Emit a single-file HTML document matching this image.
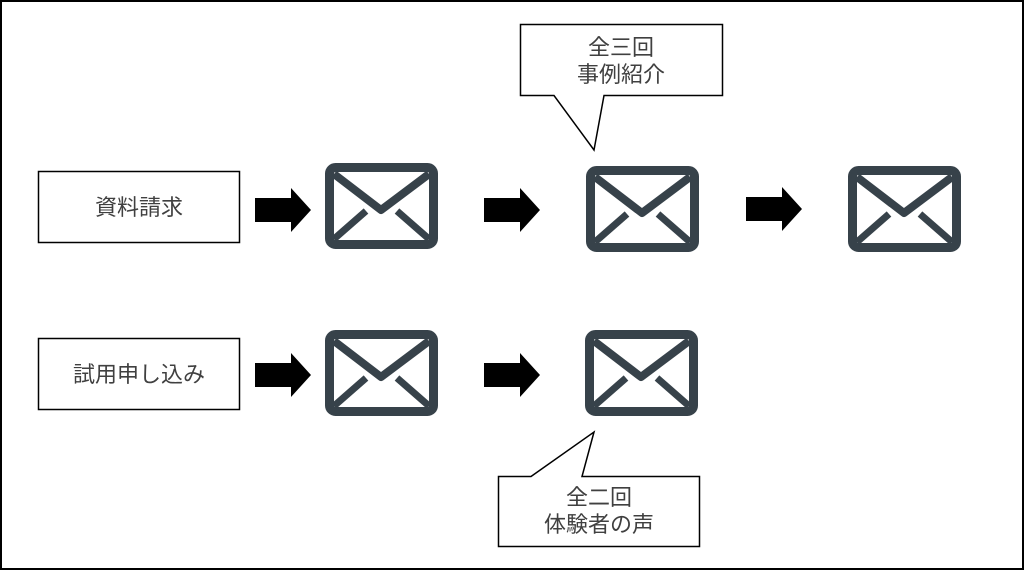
<!DOCTYPE html>
<html><head><meta charset="utf-8"><style>
html,body{margin:0;padding:0;background:#fff}
svg text{font-family:"Liberation Sans","Noto Sans CJK JP",sans-serif;font-size:22px;fill:#404040}
</style></head><body>
<svg width="1024" height="570" viewBox="0 0 1024 570" xmlns="http://www.w3.org/2000/svg">
<defs>
<g id="env">
<rect x="4.5" y="4.5" width="104" height="77" rx="6" fill="#fff" stroke="#37424a" stroke-width="9"/>
<polyline points="9,11 56,47 104,11" fill="none" stroke="#37424a" stroke-width="8" stroke-linejoin="round"/>
<line x1="9" y1="76" x2="41" y2="48" stroke="#37424a" stroke-width="7"/>
<line x1="104" y1="76" x2="72" y2="48" stroke="#37424a" stroke-width="7"/>
</g>
<polygon id="arr" points="0,-12 36,-12 36,-22 56,0 36,22 36,12 0,12" fill="#000"/>
</defs>
<rect x="1" y="1" width="1022" height="568" fill="#fff" stroke="#000" stroke-width="2"/>
<rect x="38.5" y="171.5" width="201" height="71" fill="#fff" stroke="#000" stroke-width="1.5"/>
<text x="139" y="215" text-anchor="middle">資料請求</text>
<rect x="38.5" y="338.5" width="201" height="71" fill="#fff" stroke="#000" stroke-width="1.5"/>
<text x="139" y="382" text-anchor="middle">試用申し込み</text>
<use href="#arr" x="255" y="210"/>
<use href="#arr" x="484" y="210"/>
<use href="#arr" x="746" y="209"/>
<use href="#arr" x="255" y="375"/>
<use href="#arr" x="484" y="375"/>
<use href="#env" x="325" y="163"/>
<use href="#env" x="586" y="166"/>
<use href="#env" x="848" y="166"/>
<use href="#env" x="325" y="330"/>
<use href="#env" x="585" y="330"/>
<path d="M520.5,24.5 H722.5 V95.5 H604 L594,150 L554,95.5 H520.5 Z" fill="#fff" stroke="#000" stroke-width="1.5"/>
<text x="621" y="55" text-anchor="middle">全三回</text>
<text x="621" y="82" text-anchor="middle">事例紹介</text>
<path d="M498.5,476.5 H531 L594,432 L582,476.5 H699.5 V546.5 H498.5 Z" fill="#fff" stroke="#000" stroke-width="1.5"/>
<text x="599" y="505" text-anchor="middle">全二回</text>
<text x="599" y="532" text-anchor="middle">体験者の声</text>
</svg>
</body></html>
